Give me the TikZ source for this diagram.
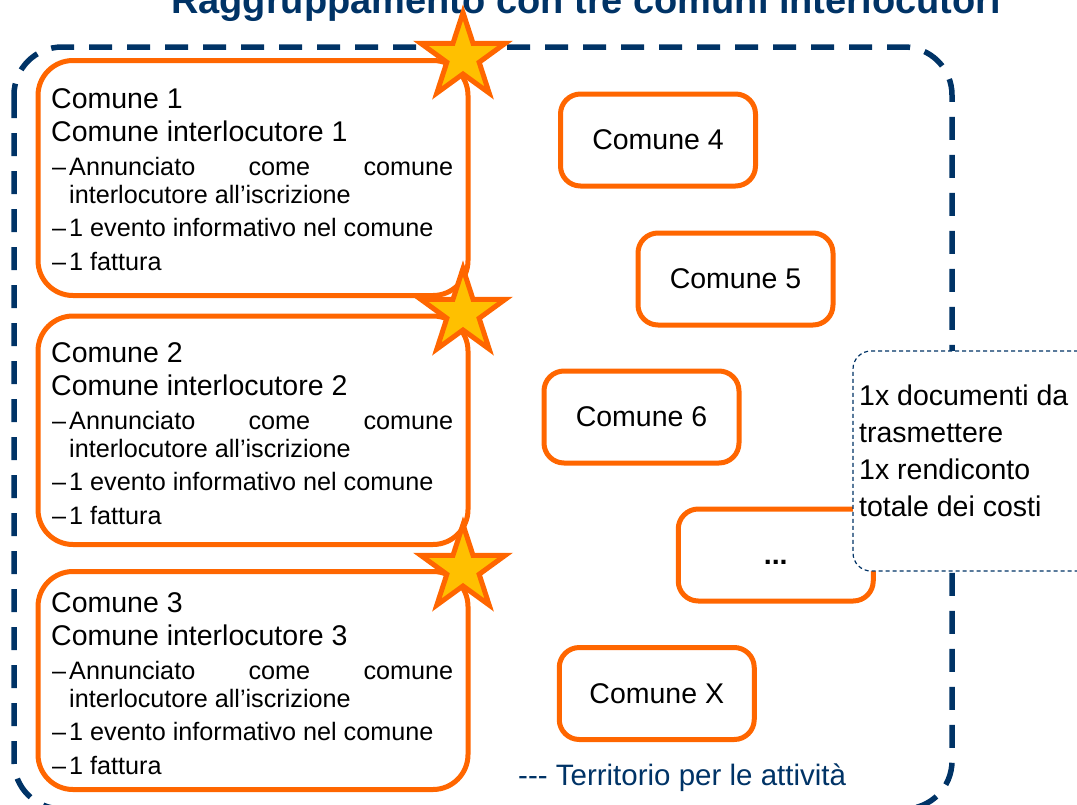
\documentclass[tikz,border=0pt]{standalone}
\usepackage{fontspec}
\setmainfont{Liberation Sans}
\usetikzlibrary{calc}
\definecolor{dblue}{RGB}{0,51,102}
\definecolor{org}{RGB}{255,102,0}
\definecolor{gold}{RGB}{255,192,0}
\begin{document}
\begin{tikzpicture}[x=1pt,y=-1pt,
  obox/.style={draw=org, line width=5pt, rounded corners=35pt, fill=white},
  sbox/.style={draw=org, line width=5pt, rounded corners=20pt, fill=white,
    minimum width=195pt, minimum height=92pt, inner sep=0pt,
    font=\fontsize{28.5}{30}\selectfont},
  notebox/.style={draw=dblue, line width=1.2pt, dash pattern=on 4pt off 3pt,
    rounded corners=18pt, fill=white},
  mainline/.style={anchor=base west, inner sep=0pt, font=\fontsize{28.5}{30}\selectfont},
  subline/.style={anchor=base west, inner sep=0pt, font=\fontsize{25.2}{27}\selectfont},
  starst/.style={draw=org, line width=5pt, fill=gold, line join=miter},
  territory/.style={draw=dblue, line width=5.5pt, dash pattern=on 23pt off 15pt,
    rounded corners=48pt},
]
\useasboundingbox (0,0) rectangle (1077,804);
\clip (0,0) rectangle (1077,804);

% title
\node[anchor=base, inner sep=0pt, text=dblue, font=\fontsize{38}{40}\selectfont\bfseries]
  (title) at (586,13) {Raggruppamento con tre comuni interlocutori};

% outer dashed territory
\draw[territory] (14,47) rectangle (952,809);

% left boxes
\draw[obox] (38,60.5) rectangle (468,295.5);
\draw[obox] (38,316) rectangle (468,544.5);
\draw[obox] (38,571.5) rectangle (468,789.5);

% right boxes
\node[sbox] (c4) at (658,140) {Comune 4};
\node[sbox] (c5) at (735.5,279) {Comune 5};
\node[sbox] (c6) at (641.5,417) {Comune 6};
\node[sbox] (cd) at (775.75,555) {\vphantom{C}\textbf{...}};
\node[sbox] (cx) at (656.75,693.5) {Comune X};

% note box
\node[notebox, minimum width=250pt, minimum height=220pt] (note) at (978,461) {};
\node[mainline] (n1) at (859,405) {1x documenti da};
\node[mainline] (n2) at (859,442) {trasmettere};
\node[mainline] (n3) at (859,479) {1x rendiconto};
\node[mainline] (n4) at (859,516) {totale dei costi};

% stars
\coordinate (s1) at (463,57);
\coordinate (s2) at (463,313);
\coordinate (s3) at (463,569);
\foreach \s in {s1,s2,s3}{
  \draw[starst] ($(\s)+(-90:44.5)$) -- ($(\s)+(-54:17)$) -- ($(\s)+(-18:44.5)$)
    -- ($(\s)+(18:17)$) -- ($(\s)+(54:44.5)$) -- ($(\s)+(90:17)$)
    -- ($(\s)+(126:44.5)$) -- ($(\s)+(162:17)$) -- ($(\s)+(198:44.5)$)
    -- ($(\s)+(234:17)$) -- cycle;
}

% box texts
\foreach \i/\dy in {1/0,2/254,3/504}{
  \node[mainline] (t\i a) at (51,108+\dy) {Comune \i};
  \node[mainline] (t\i b) at (51,141+\dy) {Comune interlocutore \i};
  \node[subline] (d\i a) at (52,175+\dy) {–};
  \node[subline] (t\i c) at (69,175+\dy) {\makebox[384pt][s]{Annunciato come comune}};
  \node[subline] (t\i d) at (69,203+\dy) {interlocutore all’iscrizione};
  \node[subline] (d\i b) at (52,236+\dy) {–};
  \node[subline] (t\i e) at (69,236+\dy) {1 evento informativo nel comune};
  \node[subline] (d\i c) at (52,270+\dy) {–};
  \node[subline] (t\i f) at (69,270+\dy) {1 fattura};
}

% legend
\node[mainline, text=dblue, font=\fontsize{29.5}{31}\selectfont] (legend) at (518,785)
  {-{}-{}- Territorio per le attività};
\end{tikzpicture}
\end{document}
